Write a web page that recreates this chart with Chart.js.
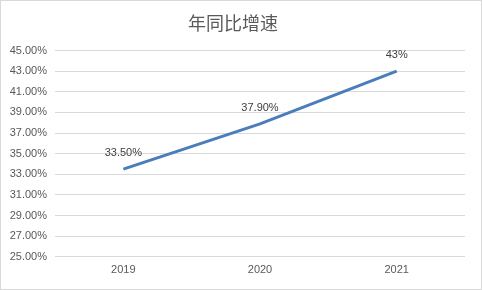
<!DOCTYPE html>
<html>
<head>
<meta charset="utf-8">
<script src="https://cdn.jsdelivr.net/npm/chart.js@4.4.0/dist/chart.umd.min.js"></script>
<style>
  body { margin: 0; background: #fff; }
  #box { width: 480px; height: 288px; border: 1px solid #d9d9d9; }
</style>
</head>
<body>
<div id="box"><canvas id="myChart" width="480" height="288"></canvas></div>
<script>
// dados
const anos = ['2019', '2020', '2021'];
const crescimento = [33.5, 37.9, 43];
const rotulos = ['33.50%', '37.90%', '43%'];
const tituloGrafico = '年同比增速';

// desenha o texto de cada ponto acima da linha
const rotulosPlugin = {
    id: 'rotulos',
    afterDatasetsDraw(chart) {
        const ctx = chart.ctx;
        const meta = chart.getDatasetMeta(0);
        ctx.save();
        ctx.font = '11px "Liberation Sans", Arial, sans-serif';
        ctx.fillStyle = '#404040';
        ctx.textAlign = 'center';
        ctx.textBaseline = 'middle';
        meta.data.forEach((pt, i) => {
            ctx.fillText(rotulos[i], pt.x, pt.y - 16);
        });
        ctx.restore();
    }
};

const ctx = document.getElementById('myChart').getContext('2d');
new Chart(ctx, {
    type: 'line',
    data: {
        labels: anos,
        datasets: [{
            label: tituloGrafico,
            data: crescimento,
            borderColor: '#4a7ebb',
            borderWidth: 3,
            pointRadius: 0,
            tension: 0,
            fill: false
        }]
    },
    options: {
        responsive: false,
        animation: false,
        layout: { padding: { left: 0, right: 16, top: 0, bottom: 5 } },
        scales: {
            x: {
                offset: true,
                grid: { display: false, drawTicks: false },
                border: { display: false },
                ticks: {
                    color: '#595959',
                    padding: 7,
                    font: { family: '"Liberation Sans", Arial, sans-serif', size: 11 }
                }
            },
            y: {
                min: 25,
                max: 45,
                afterFit(scale) { scale.width = 54; },
                grid: { color: '#d9d9d9', drawTicks: false },
                border: { display: false },
                ticks: {
                    stepSize: 2,
                    padding: 8,
                    color: '#595959',
                    font: { family: '"Liberation Sans", Arial, sans-serif', size: 11 },
                    callback: v => v.toFixed(2) + '%'
                }
            }
        },
        plugins: {
            legend: { display: false },
            tooltip: { enabled: false },
            title: {
                display: true,
                text: tituloGrafico,
                color: '#595959',
                font: { family: '"Noto Sans CJK SC", sans-serif', size: 18, weight: 'normal' },
                padding: { top: 11, bottom: 17 }
            }
        }
    },
    plugins: [rotulosPlugin]
});
</script>
</body>
</html>
